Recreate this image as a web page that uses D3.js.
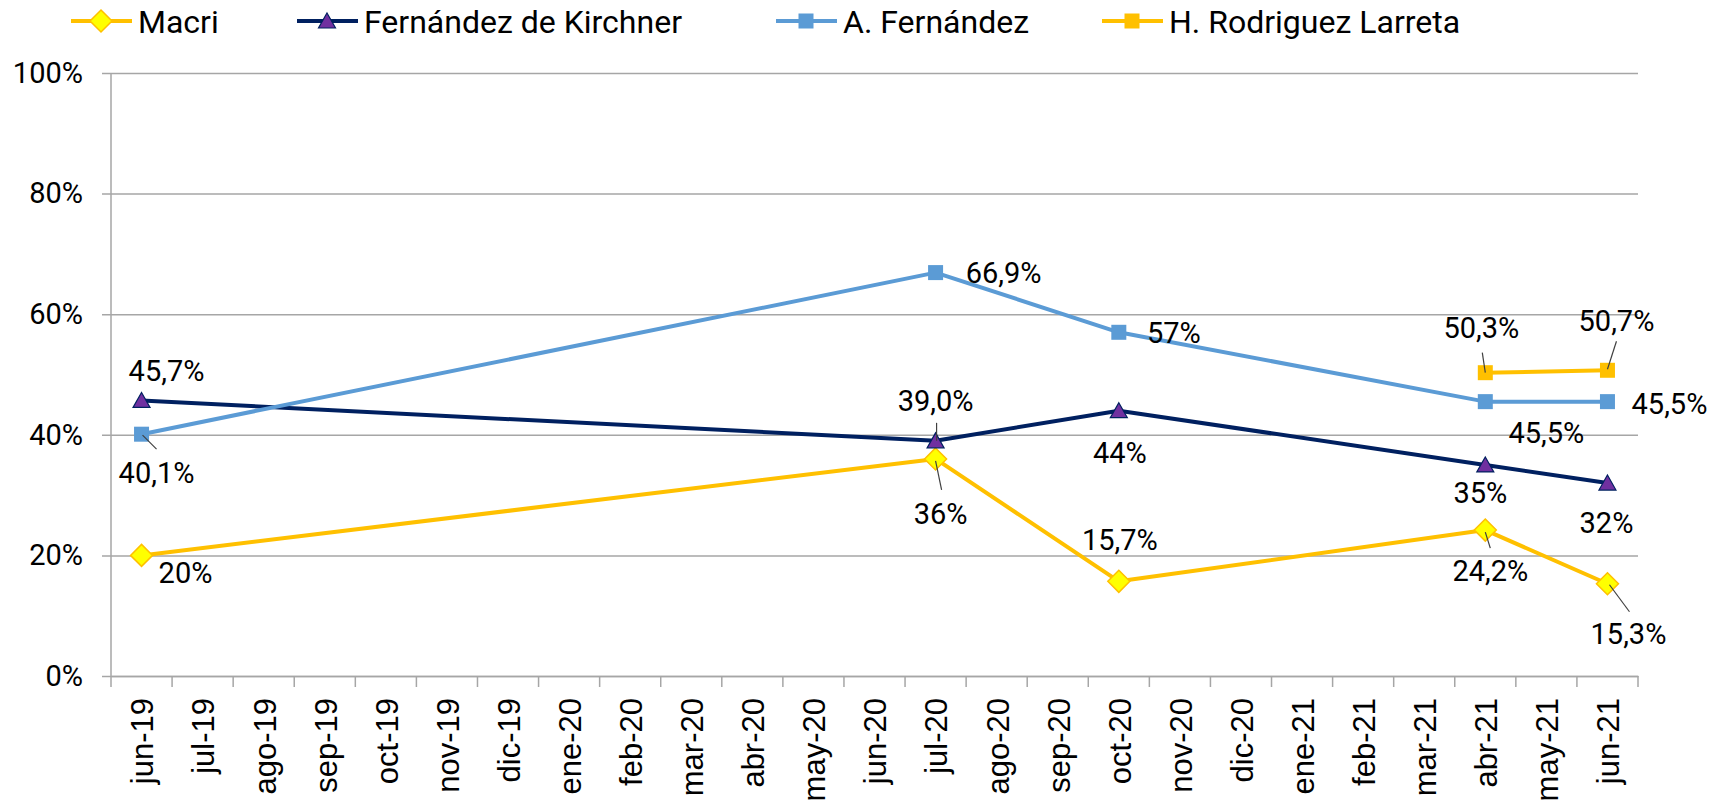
<!DOCTYPE html>
<meta charset="utf-8">
<style>
  body { margin: 0; background: #fff; }
  svg text { fill: #000; }
</style>
<body>
<div id="chart"></div>
<script src="https://d3js.org/d3.v7.min.js"></script>
<script>

  // data
  let months = ["jun-19", "jul-19", "ago-19", "sep-19", "oct-19", "nov-19", "dic-19",
    "ene-20", "feb-20", "mar-20", "abr-20", "may-20", "jun-20", "jul-20", "ago-20",
    "sep-20", "oct-20", "nov-20", "dic-20", "ene-21", "feb-21", "mar-21", "abr-21",
    "may-21", "jun-21"];
  let yTicks = [0, 20, 40, 60, 80, 100];

  let macriMonths = ["jun-19", "jul-20", "oct-20", "abr-21", "jun-21"];
  let macriValues = [20, 36, 15.7, 24.2, 15.3];
  let macriLabels = ["20%", "36%", "15,7%", "24,2%", "15,3%"];

  let cfkMonths = ["jun-19", "jul-20", "oct-20", "abr-21", "jun-21"];
  let cfkValues = [45.7, 39.0, 44, 35, 32];
  let cfkLabels = ["45,7%", "39,0%", "44%", "35%", "32%"];

  let afMonths = ["jun-19", "jul-20", "oct-20", "abr-21", "jun-21"];
  let afValues = [40.1, 66.9, 57, 45.5, 45.5];
  let afLabels = ["40,1%", "66,9%", "57%", "45,5%", "45,5%"];

  let hrlMonths = ["abr-21", "jun-21"];
  let hrlValues = [50.3, 50.7];
  let hrlLabels = ["50,3%", "50,7%"];

  // label placement (offset of label centre from point, optional leader line)
  let macriPlace = [{dx: 44, dy: 17}, {dx: 5, dy: 55, lead: [0, 2, 6, 31]}, {dx: 1, dy: -42},
    {dx: 5, dy: 40, lead: [0, 2, 5, 18]}, {dx: 21, dy: 50, lead: [2, 1, 22, 28]}];
  let cfkPlace = [{dx: 25, dy: -30}, {dx: 0, dy: -40, lead: [1, -18, 1, 0]}, {dx: 1, dy: 42},
    {dx: -5, dy: 28}, {dx: -1, dy: 40}];
  let afPlace = [{dx: 15, dy: 38, lead: [1, 1, 15, 15]}, {dx: 68, dy: 0}, {dx: 55, dy: 0},
    {dx: 61, dy: 31}, {dx: 62, dy: 2}];
  let hrlPlace = [{dx: -4, dy: -45, lead: [-3, -20, 0, 0]}, {dx: 9, dy: -50, lead: [9, -29, 0, -1]}];

  let width = 1720,
    height = 806,
    mLeft = 111, mRight = 1638, mTop = 73, mBottom = 676;

  let series = [
    {name: "Macri", months: macriMonths, values: macriValues, labels: macriLabels, place: macriPlace,
      line: "#FFC000", shape: "diamond", fill: "#FFFF00", stroke: "#FFC000", legendX: 71},
    {name: "Fernández de Kirchner", months: cfkMonths, values: cfkValues, labels: cfkLabels, place: cfkPlace,
      line: "#002060", shape: "triangle", fill: "#7030A0", stroke: "#002060", legendX: 297},
    {name: "A. Fernández", months: afMonths, values: afValues, labels: afLabels, place: afPlace,
      line: "#5B9BD5", shape: "square", fill: "#5B9BD5", stroke: "#5B9BD5", legendX: 776},
    {name: "H. Rodriguez Larreta", months: hrlMonths, values: hrlValues, labels: hrlLabels, place: hrlPlace,
      line: "#FFC000", shape: "square", fill: "#FFC000", stroke: "#FFC000", legendX: 1102}
  ];

  let x = d3.scaleBand().domain(months).range([mLeft, mRight]).padding(0);
  let y = d3.scaleLinear().domain([0, 100]).range([mBottom, mTop]);
  let cx = m => x(m) + x.bandwidth() / 2;

  let svg = d3.select("#chart").append("svg")
    .attr("width", width)
    .attr("height", height);

  // gridlines + y axis
  let yAxis = d3.axisLeft(y).tickValues(yTicks).tickSize(-(mRight - mLeft)).tickFormat(d => d + "%").tickPadding(28);
  let gy = svg.append("g").attr("transform", "translate(" + mLeft + ",0)").call(yAxis);
  gy.select(".domain").remove();
  gy.selectAll(".tick line").attr("stroke", "#A6A6A6").attr("stroke-width", 1.5).attr("x1", -9);
  gy.selectAll(".tick text")
    .attr("font-family", "Roboto, sans-serif").attr("font-size", 29).attr("fill", "#000");

  svg.append("line")
    .attr("x1", mLeft).attr("x2", mLeft).attr("y1", mTop).attr("y2", mBottom)
    .attr("stroke", "#A6A6A6").attr("stroke-width", 1.5);

  // x axis
  let xAxis = d3.axisBottom(x).tickSize(0).tickPadding(0);
  let gx = svg.append("g").attr("transform", "translate(0," + mBottom + ")").call(xAxis);
  gx.select(".domain").attr("stroke", "#A6A6A6").attr("stroke-width", 1.5);
  gx.selectAll(".tick text")
    .attr("font-family", "'Liberation Sans', Arial, sans-serif").attr("font-size", 31).attr("fill", "#000")
    .attr("text-anchor", "end")
    .attr("transform", "rotate(-90)")
    .attr("x", -22).attr("y", 1).attr("dy", "0.35em");
  svg.append("g").selectAll("line")
    .data(months.concat(["end"]))
    .join("line")
    .attr("x1", (d, i) => mLeft + i * x.bandwidth())
    .attr("x2", (d, i) => mLeft + i * x.bandwidth())
    .attr("y1", mBottom).attr("y2", mBottom + 11)
    .attr("stroke", "#A6A6A6").attr("stroke-width", 1.5);

  function marker(sel, shape, fill, stroke) {
    if (shape === "diamond") {
      sel.append("path").attr("d", "M0,-11L11,0L0,11L-11,0Z")
        .attr("fill", fill).attr("stroke", stroke).attr("stroke-width", 1.5);
    } else if (shape === "triangle") {
      sel.append("path").attr("d", "M0,-8L8.5,7L-8.5,7Z")
        .attr("fill", fill).attr("stroke", stroke).attr("stroke-width", 1.2);
    } else {
      sel.append("rect").attr("x", -7.5).attr("y", -7.5).attr("width", 15).attr("height", 15)
        .attr("fill", fill);
    }
  }

  let line = d3.line().x(d => cx(d.m)).y(d => y(d.v));

  series.forEach(function(s) {
    let pts = s.months.map((m, i) => ({m: m, v: s.values[i], label: s.labels[i], p: s.place[i]}));
    svg.append("path")
      .datum(pts)
      .attr("d", line)
      .attr("fill", "none")
      .attr("stroke", s.line)
      .attr("stroke-width", 4)
      .attr("stroke-linejoin", "round");

    pts.forEach(function(d) {
      let g = svg.append("g").attr("transform", "translate(" + cx(d.m) + "," + y(d.v) + ")");
      marker(g, s.shape, s.fill, s.stroke);
    });

    pts.forEach(function(d) {
      let px = cx(d.m), py = y(d.v);
      if (d.p.lead) {
        svg.append("line")
          .attr("x1", px + d.p.lead[0]).attr("y1", py + d.p.lead[1])
          .attr("x2", px + d.p.lead[2]).attr("y2", py + d.p.lead[3])
          .attr("stroke", "#404040").attr("stroke-width", 1.2);
      }
      svg.append("text")
        .attr("x", px + d.p.dx).attr("y", py + d.p.dy)
        .attr("dy", "0.36em")
        .attr("text-anchor", "middle")
        .attr("font-family", "Roboto, sans-serif")
        .attr("font-size", 29)
        .text(d.label);
    });
  });

  // legend
  series.forEach(function(s) {
    let g = svg.append("g").attr("transform", "translate(" + s.legendX + ",21)");
    g.append("line").attr("x1", 0).attr("x2", 61).attr("y1", 0).attr("y2", 0)
      .attr("stroke", s.line).attr("stroke-width", 4);
    let mg = g.append("g").attr("transform", "translate(30,0)");
    marker(mg, s.shape, s.fill, s.stroke);
    g.append("text")
      .attr("x", 67).attr("y", 0).attr("dy", "0.36em")
      .attr("font-family", "Roboto, sans-serif")
      .attr("font-size", 32)
      .text(s.name);
  });

</script>
